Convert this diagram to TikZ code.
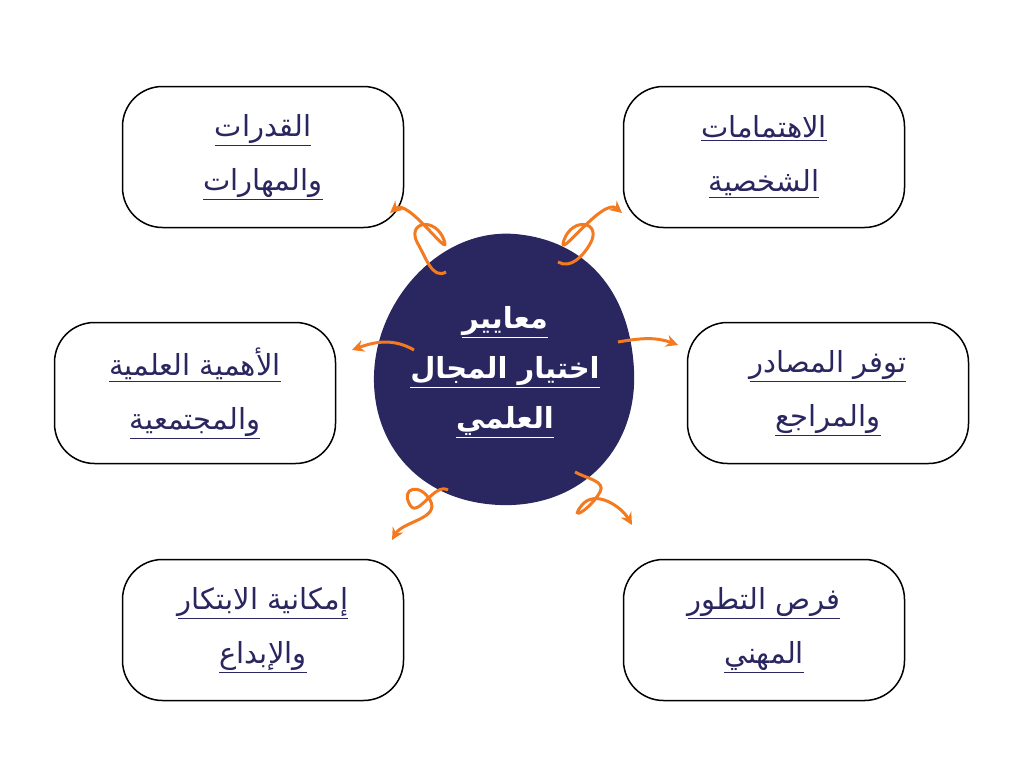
\documentclass[tikz,border=0pt]{standalone}
\usepackage{fontspec}
\newfontfamily\arabicfont[Script=Arabic]{DejaVu Sans}
\usetikzlibrary{arrows.meta}
\definecolor{navy}{HTML}{2A2660}
\definecolor{orng}{HTML}{F47A20}
\TeXXeTstate=1
\newcommand{\arl}[1]{\underline{\beginR #1\endR}}
\tikzset{
  box/.style={draw=black, line width=1.5pt, rounded corners=40pt, minimum width=281pt, minimum height=141pt, text=navy, align=center, font=\arabicfont\fontsize{29}{54}\selectfont},
  arr/.style={draw=orng, line width=3pt, -{Stealth[length=12pt,width=12pt]}}
}
\begin{document}
\begin{tikzpicture}[x=1pt,y=-1pt]
\useasboundingbox (0,0) rectangle (1024,768);
% centre
\fill[navy] (515,234) .. controls (585,240) and (630,290) .. (634,370)
  .. controls (638,450) and (580,508) .. (500,505)
  .. controls (420,502) and (372,445) .. (374,375)
  .. controls (376,300) and (440,228) .. (515,234) -- cycle;
\node[text=white, align=center, font=\arabicfont\bfseries\fontsize{29}{50}\selectfont] (centre) at (505,372)
  {\arl{معايير}\\\arl{اختيار المجال}\\\arl{العلمي}};
% boxes
\node[box] (tl) at (263,157) {\arl{القدرات}\\\arl{والمهارات}};
\node[box] (tr) at (764,157) {\arl{الاهتمامات}\\\arl{الشخصية}};
\node[box] (ml) at (195,393) {\arl{الأهمية العلمية}\\\arl{والمجتمعية}};
\node[box] (mr) at (828,393) {\arl{توفر المصادر}\\\arl{والمراجع}};
\node[box] (bl) at (263,630) {\arl{إمكانية الابتكار}\\\arl{والإبداع}};
\node[box] (br) at (764,630) {\arl{فرص التطور}\\\arl{المهني}};
% arrows
\draw[arr] (446,272) to[out=210,in=-60] (418,244) to[out=120,in=110,looseness=2.5] (444,240) to[out=-70,in=40] (390,213);
\draw[arr] (558,262) to[out=-30,in=240] (590,244) to[out=60,in=70,looseness=2.5] (564,240) to[out=250,in=140] (622,213);
\draw[arr] (414,350) to[out=150,in=20] (352,350);
\draw[arr] (618,342) to[out=10,in=160] (678,345);
\draw[arr] (448,490) to[out=150,in=-60] (410,505) to[out=120,in=120,looseness=2.5] (430,500) to[out=-60,in=60] (392,540);
\draw[arr] (575,472) to[out=-30,in=60] (600,492) to[out=240,in=230,looseness=2.5] (582,505) to[out=50,in=120] (632,525);
\end{tikzpicture}
\end{document}
